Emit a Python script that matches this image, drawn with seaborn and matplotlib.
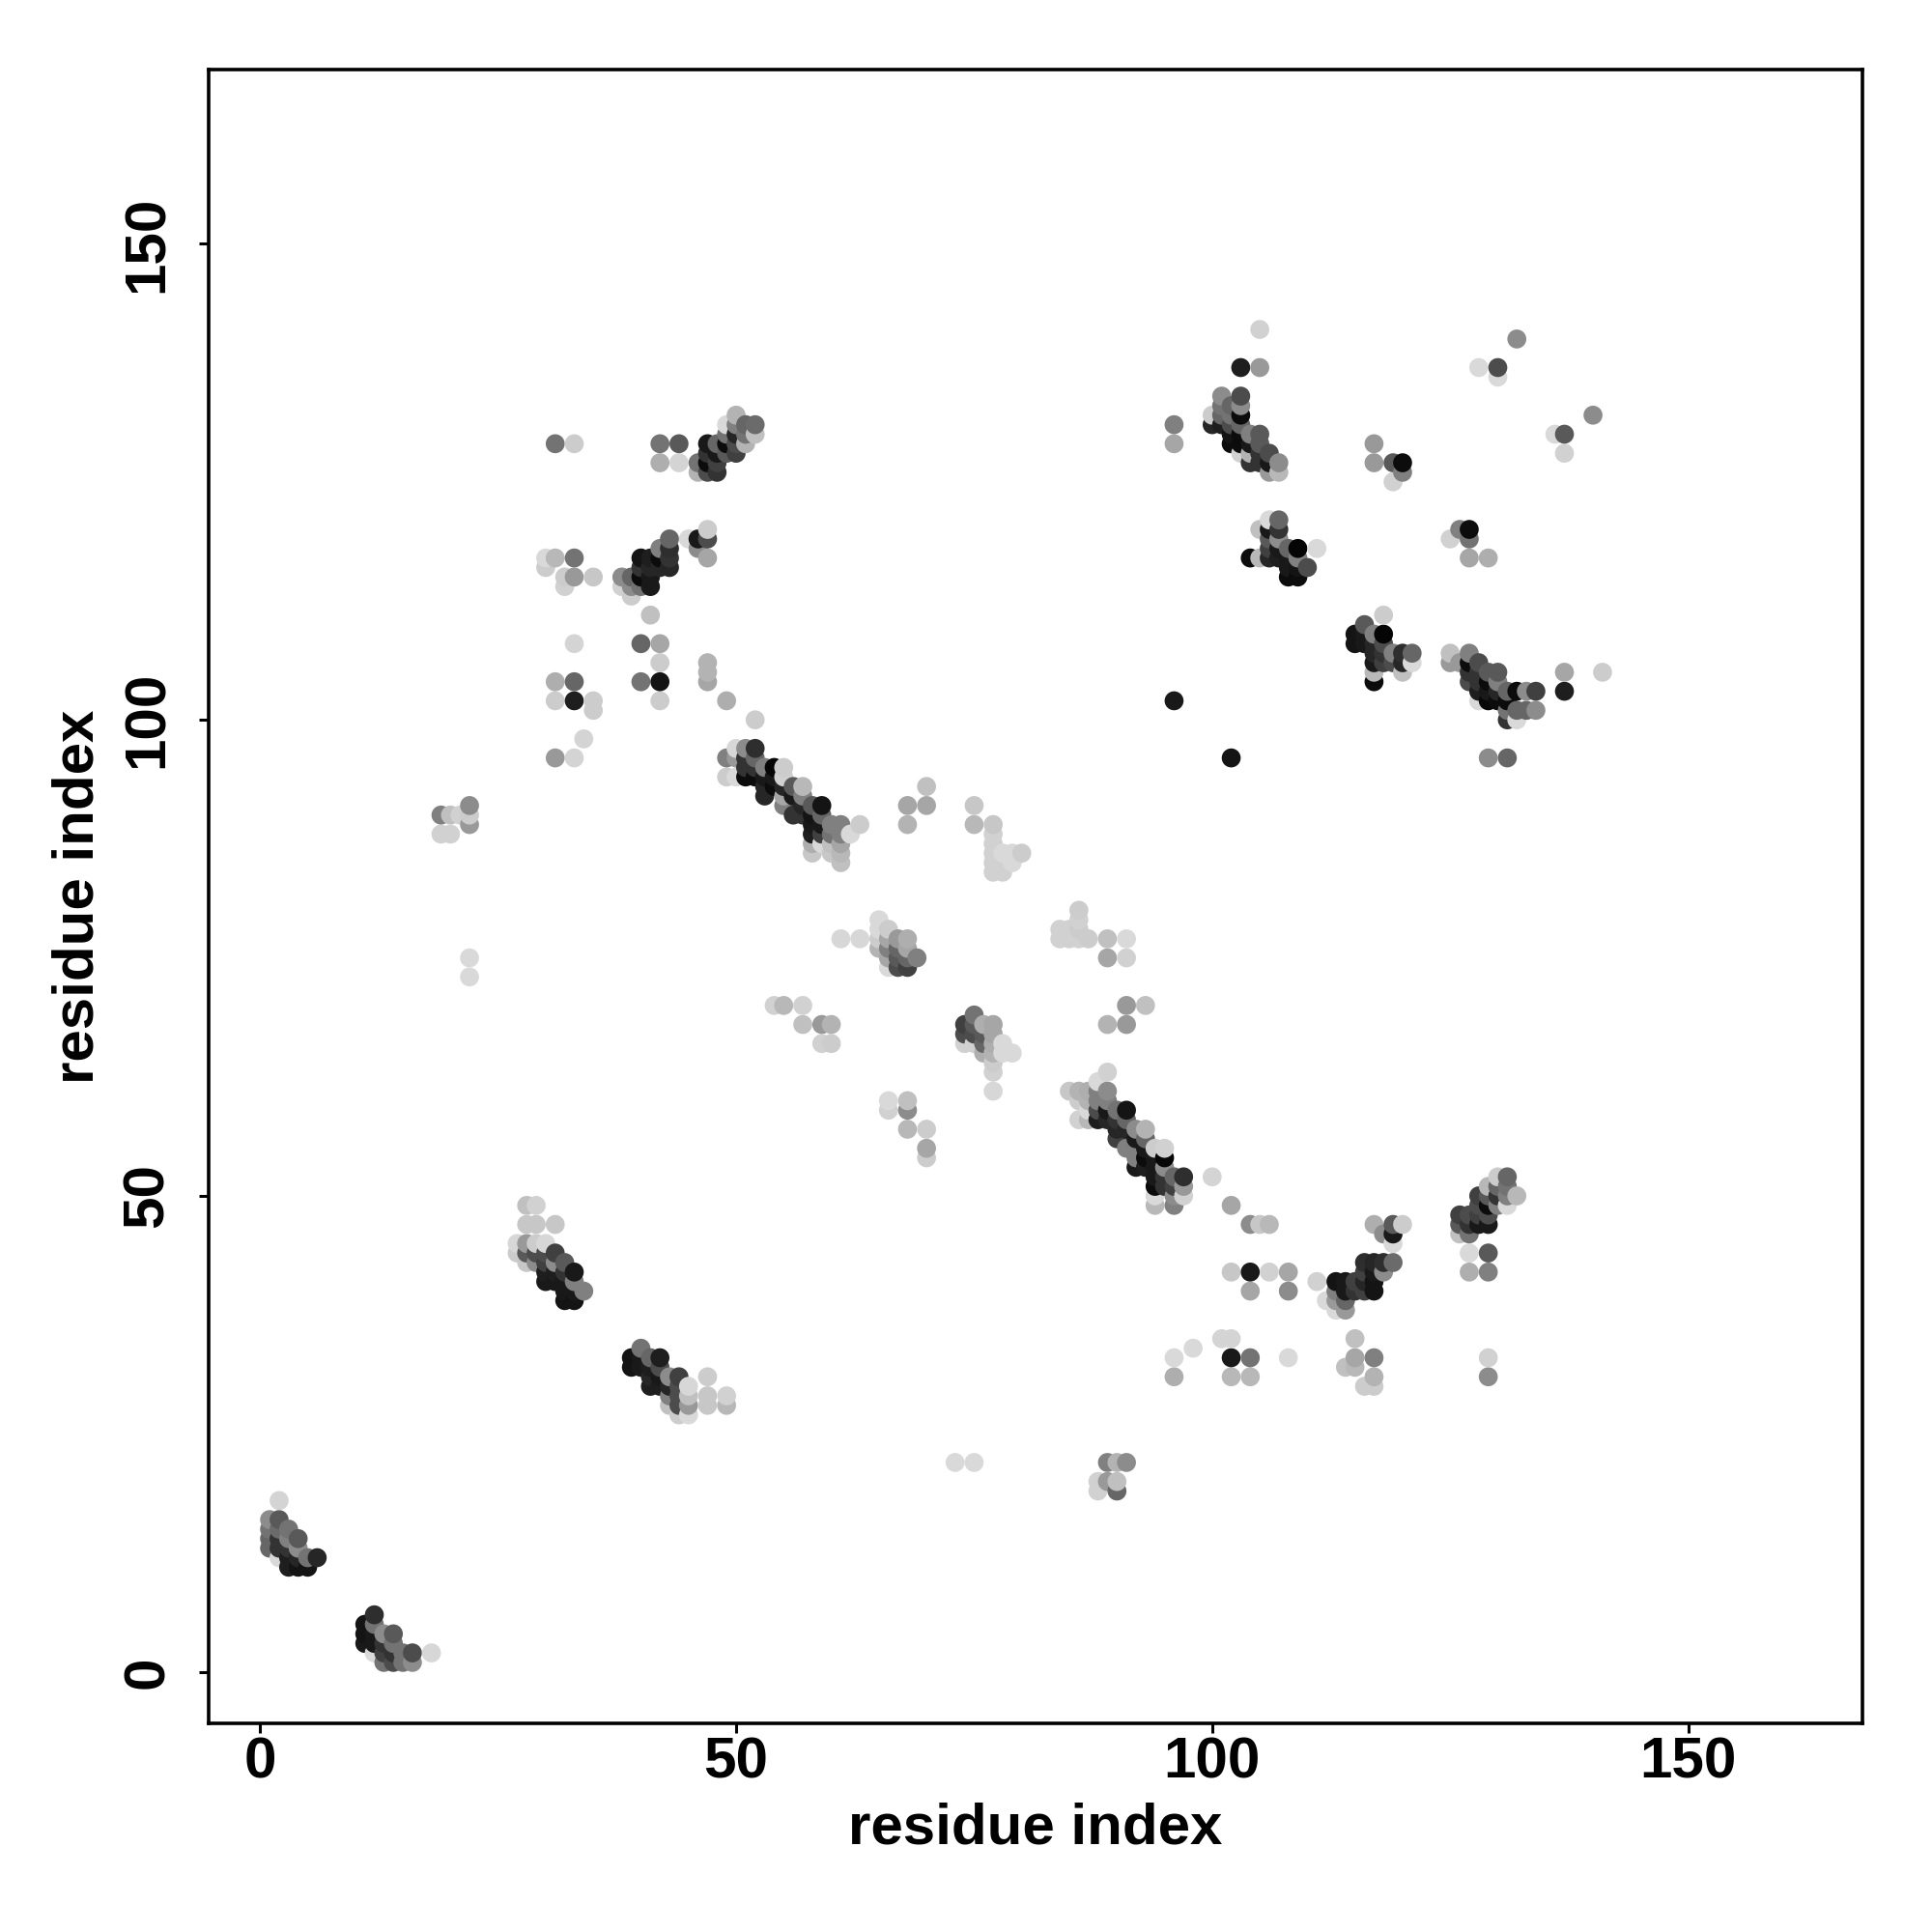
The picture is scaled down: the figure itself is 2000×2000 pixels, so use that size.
import pandas as pd
import seaborn as sns
import matplotlib.pyplot as plt

# contacts as (residue i, residue j, tone), tone 0 = black, 1 = white
helix_a = [(2,18,.83),(1,16,.55),(2,16,.35),(1,15,.45),(1,14,.4),(1,13,.4),(2,15,.42),(2,14,.2),(2,13,.2),(2,12,.85),
           (3,15,.45),(3,14,.5),(3,13,.2),(3,12,.12),(3,11,.12),(4,14,.35),(4,13,.55),(4,12,.15),(4,11,.08),
           (5,12,.45),(5,11,.08),(6,12,.15)]
helix_b = [(11,5,.08),(11,4,.08),(11,3,.1),(12,6,.18),(12,5,.45),(12,4,.1),(12,3,.1),(12,2,.85),(13,4,.55),(13,3,.2),
           (13,2,.25),(13,1,.45),(14,4,.35),(14,3,.45),(14,2,.2),(14,1,.3),(15,2,.45),(15,1,.45),(16,2,.3),(16,1,.55),(18,2,.84)]
strand_c = [(28,49,.75),(29,49,.82),(28,47,.78),(29,47,.78),(31,47,.78),(27,45,.84),(28,45,.6),(29,45,.8),(30,45,.84),
            (27,44,.8),(28,44,.35),(29,44,.3),(30,44,.3),(31,44,.25),(28,43,.78),(29,43,.55),(30,43,.25),(31,43,.55),
            (30,42,.12),(31,42,.12),(32,43,.35),(33,42,.1),(32,42,.2),(30,41,.1),(31,41,.1),(32,41,.1),(33,41,.5),
            (34,40,.5),(32,40,.1),(33,40,.1),(32,39,.08),(33,39,.08)]
strand_d = [(39,33,.08),(39,32,.08),(40,34,.45),(40,33,.1),(40,32,.1),(41,33,.4),(41,32,.12),(41,31,.15),(41,30,.12),
            (42,33,.12),(42,32,.3),(42,31,.1),(42,30,.12),(43,31,.55),(43,30,.15),(43,29,.5),(43,28,.75),(44,31,.25),
            (44,30,.3),(44,29,.3),(44,28,.3),(44,27,.8),(45,30,.84),(45,29,.75),(45,28,.6),(45,27,.85),(47,31,.8),
            (47,29,.78),(47,28,.78),(49,29,.82),(49,28,.72)]
cluster_e = [(31,129,.45),(33,129,.8),(42,129,.45),(44,129,.35),(42,127,.68),(44,127,.83),(46,127,.45),(46,126,.7),
             (47,129,.1),(47,128,.2),(47,127,.05),(47,126,.3),(48,129,.4),(48,128,.1),(48,127,.25),(48,126,.2),
             (49,131,.85),(49,130,.45),(49,129,.05),(49,128,.35),(50,132,.7),(50,131,.5),(50,130,.15),(50,129,.3),
             (50,128,.25),(51,131,.4),(51,130,.45),(51,129,.7),(52,131,.42),(52,130,.75)]
cluster_f = [(30,117,.85),(31,117,.72),(33,117,.45),(30,116,.8),(32,115,.8),(33,115,.6),(35,115,.78),(32,114,.82),
             (38,115,.55),(39,115,.4),(38,114,.82),(39,114,.55),(40,114,.45),(41,114,.1),(39,113,.8),(40,117,.08),
             (40,116,.2),(40,115,.05),(41,117,.12),(41,116,.15),(41,115,.1),(42,118,.5),(42,117,.05),(42,116,.15),
             (43,119,.4),(43,118,.18),(43,117,.2),(43,116,.15),(41,111,.75),(45,119,.85),(46,119,.1),(46,118,.55),
             (47,120,.8),(47,119,.3),(47,117,.65)]
scatter_g = [(33,108,.83),(40,108,.4),(42,108,.65),(42,106,.8),(47,106,.7),(47,105,.7),(47,104,.65),(31,104,.68),
             (33,104,.4),(40,104,.45),(42,104,.08),(31,102,.8),(33,102,.12),(35,102,.8),(35,101,.8),(42,102,.8),
             (49,102,.68),(34,98,.83),(31,96,.6),(33,96,.83),(52,100,.8)]
strand_h = [(49,96,.5),(49,94,.8),(50,97,.84),(50,96,.6),(50,94,.85),(51,97,.55),(52,97,.18),(51,96,.2),(51,95,.2),
            (51,94,.05),(52,96,.4),(52,95,.2),(52,94,.05),(53,95,.5),(53,94,.1),(54,95,.03),(54,94,.1),(54,93,.05),
            (53,93,.15),(53,92,.15),(55,95,.8),(55,94,.82),(55,93,.15),(55,92,.65),(56,93,.35),(56,92,.1),(55,91,.5),
            (57,93,.72),(57,92,.5),(57,91,.15),(56,90,.2),(57,90,.2),(58,91,.35),(58,90,.08),(58,89,.1),(59,91,.08),
            (59,90,.4),(59,89,.1),(59,88,.25),(58,88,.12),(60,89,.5),(60,88,.45),(61,89,.5),(61,88,.5),(62,88,.85),
            (63,89,.8),(58,87,.68),(58,86,.78),(59,87,.85),(60,87,.75),(60,86,.78),(61,87,.65),(61,86,.72),(61,85,.75)]
cluster_i = [(61,77,.84),(63,77,.84),(65,79,.85),(65,78,.85),(65,77,.8),(65,76,.7),(66,78,.8),(66,77,.65),(66,76,.5),
             (66,75,.65),(66,74,.85),(67,77,.6),(67,76,.4),(67,75,.35),(67,74,.3),(68,77,.68),(68,76,.65),(68,75,.4),
             (68,74,.25),(69,75,.5)]
cluster_j = [(75,69,.45),(74,68,.25),(74,67,.3),(74,66,.82),(75,68,.35),(75,67,.3),(75,66,.82),(76,68,.68),(76,67,.35),
             (76,66,.4),(76,65,.68),(77,68,.65),(77,67,.65),(77,66,.68),(77,65,.7),(77,64,.8),(77,63,.82),(77,61,.84),
             (78,66,.85),(78,65,.85),(79,65,.85)]
sparse_k = [(54,70,.82),(55,70,.72),(57,70,.82),(57,68,.75),(59,68,.6),(60,68,.7),(59,66,.82),(60,66,.8),(66,60,.85),
            (66,59,.82),(68,60,.75),(68,59,.55),(68,57,.72),(70,57,.8),(70,55,.65),(70,54,.8),(68,91,.65),(70,91,.65),
            (70,93,.75),(68,89,.7),(75,91,.78),(75,89,.72),(77,89,.78),(77,88,.82),(77,87,.82),(77,86,.82),(77,85,.82),
            (77,84,.82),(78,84,.82),(78,86,.85),(79,85,.85),(79,86,.85),(80,86,.8),(84,77,.82),(84,78,.82),(85,78,.82),
            (85,77,.82),(86,80,.8),(86,79,.82),(86,78,.8),(86,77,.82),(87,77,.8),(89,77,.75),(91,77,.85),(89,75,.65),
            (91,75,.82),(91,70,.6),(93,70,.75),(89,68,.7),(91,68,.6),(73,22,.85),(75,22,.85),(89,22,.5),(90,22,.7),
            (91,22,.55),(88,20,.82),(88,19,.82),(89,20,.6),(90,20,.75),(90,19,.4),(19,90,.5),(20,90,.75),(19,88,.82),
            (20,88,.82),(21,90,.82),(22,91,.55),(22,90,.8),(22,89,.6),(22,75,.85),(22,73,.85)]
strand_l = [(89,63,.82),(88,62,.85),(85,61,.78),(86,61,.7),(87,61,.68),(88,61,.5),(89,61,.55),(86,60,.8),(87,60,.7),
            (88,60,.5),(89,60,.5),(86,58,.82),(87,59,.85),(87,58,.72),(88,59,.3),(88,58,.12),(89,59,.1),(89,58,.15),
            (90,59,.45),(90,58,.2),(91,59,.08),(91,58,.4),(90,57,.15),(90,56,.25),(91,57,.15),(92,57,.55),(92,56,.1),
            (92,55,.5),(91,55,.5),(93,57,.7),(93,56,.4),(93,55,.1),(93,54,.05),(92,54,.5),(92,53,.1),(93,53,.12),
            (94,55,.8),(94,54,.1),(94,53,.1),(94,52,.1),(94,51,.05),(95,55,.82),(95,54,.03),(95,53,.55),(95,52,.2),
            (95,51,.2),(96,52,.4),(96,51,.25),(96,50,.55),(97,52,.18),(97,51,.6),(97,50,.82),(94,50,.85),(94,49,.72),
            (96,49,.5),(100,52,.83),(102,49,.65)]
sparse_m = [(104,47,.55),(105,47,.78),(106,47,.72),(102,42,.78),(104,42,.1),(106,42,.82),(108,42,.65),(104,40,.65),
            (108,40,.55),(111,41,.82),(98,34,.85),(96,33,.85),(96,31,.68),(101,35,.83),(102,35,.83),(102,33,.1),
            (104,33,.45),(102,31,.72),(104,31,.72),(108,33,.85),(115,35,.75),(114,32,.75),(115,33,.65),(115,32,.72),
            (117,33,.5),(116,30,.8),(117,31,.7),(117,30,.8),(129,33,.82),(129,31,.55),(127,44,.85),(129,44,.35),
            (127,42,.68),(129,42,.5)]
strand_n = [(117,47,.68),(118,46,.55),(119,47,.35),(119,46,.1),(119,45,.85),(120,47,.8),(116,43,.18),(117,43,.15),
            (118,43,.18),(119,43,.42),(116,42,.25),(117,42,.1),(118,42,.55),(115,41,.25),(116,41,.15),(117,41,.08),
            (113,41,.08),(114,41,.1),(113,40,.5),(114,40,.1),(115,40,.2),(116,40,.25),(117,40,.08),(112,39,.85),
            (113,39,.6),(114,39,.4),(113,38,.85),(114,38,.6)]
strand_o = [(126,48,.25),(126,47,.35),(126,46,.75),(127,48,.3),(127,47,.2),(127,46,.45),(128,50,.25),(128,49,.3),
            (128,48,.25),(128,47,.1),(129,51,.72),(129,50,.35),(129,49,.05),(129,48,.3),(129,47,.1),(130,52,.8),
            (130,51,.4),(130,50,.2),(130,49,.5),(131,52,.4),(131,51,.45),(131,50,.5),(131,49,.85),(132,50,.72)]
strand_p = [(118,111,.8),(116,110,.35),(115,109,.08),(115,108,.08),(116,109,.1),(116,108,.1),(117,109,.5),(118,109,.02),
            (117,108,.15),(118,108,.3),(117,107,.15),(118,107,.2),(119,107,.5),(120,107,.18),(121,107,.4),(117,106,.1),
            (118,106,.25),(119,106,.3),(120,106,.15),(121,106,.85),(117,105,.72),(117,104,.05),(120,105,.75)]
strand_q = [(125,107,.75),(125,106,.6),(126,106,.6),(127,107,.5),(127,106,.05),(127,105,.2),(127,104,.3),(128,106,.3),
            (128,105,.2),(128,104,.2),(128,103,.12),(128,102,.85),(129,105,.35),(129,104,.05),(129,103,.1),(129,102,.03),
            (130,105,.35),(130,104,.5),(130,103,.15),(130,102,.05),(131,103,.4),(131,102,.05),(131,101,.45),(131,100,.2),
            (132,103,.05),(132,101,.4),(132,100,.85),(133,103,.55),(133,101,.4),(134,103,.25),(134,101,.55),(137,105,.65),
            (137,103,.12),(141,105,.8),(129,96,.55),(131,96,.4)]
strand_r = [(104,117,.05),(105,120,.75),(105,117,.72),(106,121,.85),(106,120,.1),(106,119,.35),(106,118,.25),(106,117,.15),
            (107,121,.4),(107,120,.2),(107,119,.55),(107,118,.1),(107,117,.12),(108,118,.4),(108,117,.1),(108,116,.1),
            (108,115,.05),(109,118,.02),(109,117,.5),(109,116,.08),(109,115,.05),(110,116,.3),(111,118,.85)]
strand_s = [(101,134,.55),(103,134,.3),(102,133,.4),(101,133,.45),(103,133,.55),(100,132,.8),(100,131,.15),(101,132,.4),
            (101,131,.12),(102,132,.45),(102,131,.3),(103,132,.05),(103,131,.4),(102,130,.08),(102,129,.05),(103,130,.05),
            (103,129,.05),(103,128,.82),(104,130,.5),(104,129,.1),(104,128,.7),(104,127,.2),(105,130,.35),(105,129,.35),
            (105,128,.2),(105,127,.2),(106,128,.3),(106,127,.1),(106,126,.6),(107,127,.55),(107,126,.72)]
sparse_t = [(103,137,.12),(105,137,.6),(105,141,.82),(96,131,.5),(96,129,.65),(117,129,.6),(117,127,.6),(119,127,.35),
            (120,127,.05),(120,126,.5),(119,125,.82),(125,119,.82),(126,120,.5),(127,120,.05),(127,119,.45),(127,117,.65),
            (129,117,.68),(128,137,.85),(130,137,.3),(130,136,.85),(132,140,.55),(136,130,.85),(137,130,.35),(137,128,.82),
            (140,132,.55),(96,102,.1),(102,96,.08)]

tick_values = [0, 50, 100, 150]

# ===Build the table===
contacts = (helix_a + helix_b + strand_c + strand_d + cluster_e + cluster_f + scatter_g + strand_h + cluster_i
            + cluster_j + sparse_k + strand_l + sparse_m + strand_n + strand_o + strand_p + strand_q + strand_r
            + strand_s + sparse_t)
df = pd.DataFrame(contacts, columns=['i', 'j', 'tone'])
df = df.sort_values(by=['i', 'j']).reset_index(drop=True)

sns.set_style('white')
plt.rcParams['font.family'] = ['Liberation Sans', 'DejaVu Sans']

fig, ax = plt.subplots(figsize=(10, 10), dpi=200)
fig.subplots_adjust(left=216/2000, right=1928/2000, top=1-72/2000, bottom=1-1784/2000)

sns.scatterplot(data=df, x='i', y='j', hue='tone', palette='gray', hue_norm=(0, 1),
                s=50, linewidth=0, legend=False, ax=ax)

ax.set_xlim(-5.4, 168.3)
ax.set_ylim(-5.4, 168.3)
ax.set_xticks(tick_values)
ax.set_yticks(tick_values)

for side in ax.spines.values():
    side.set_linewidth(1.3)
    side.set_color('black')

ax.tick_params(axis='both', length=3.6, width=1.1, color='black', labelcolor='black',
               left=True, bottom=True, labelsize=21.7)
ax.tick_params(axis='x', pad=1.2)
ax.tick_params(axis='y', pad=9)
ax.set_xticklabels(tick_values, fontweight='bold')
ax.set_yticklabels(tick_values, fontweight='bold', rotation=90, va='center')

ax.set_xlabel('residue index', fontsize=21.6, fontweight='bold', color='black', va='center')
ax.set_ylabel('residue index', fontsize=21.6, fontweight='bold', color='black', va='center')
ax.xaxis.set_label_coords(0.5, (1784-1893)/1712)
ax.yaxis.set_label_coords((81.5-216)/1712, 0.5)

fig.savefig('out.png')
